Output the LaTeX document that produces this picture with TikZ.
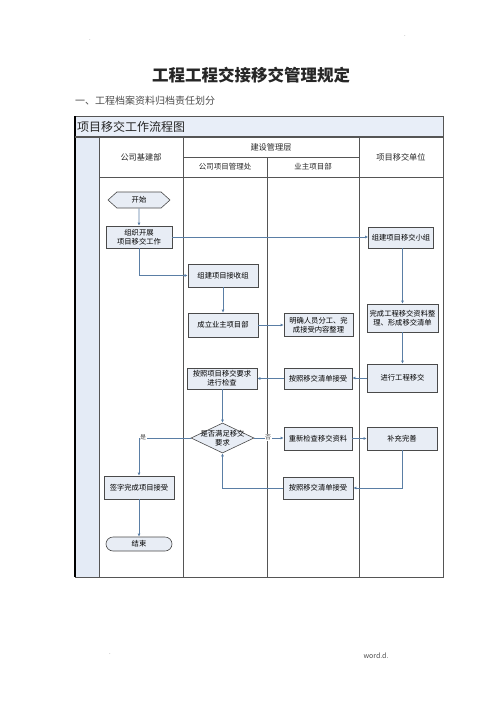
\documentclass[tikz,border=0pt]{standalone}
\usepackage{fontspec}
\setmainfont{Noto Sans CJK SC}
\usetikzlibrary{shapes.geometric,shapes.symbols,arrows.meta}
\definecolor{boxfill}{HTML}{E8EDF5}
\definecolor{boxline}{HTML}{4A4A4A}
\definecolor{arrowc}{HTML}{5A7EA5}
\definecolor{laneline}{HTML}{555555}
\definecolor{stripfill}{HTML}{E4EBF6}
\definecolor{titlefill}{HTML}{E8EEF8}
\begin{document}
\begin{tikzpicture}[x=1pt,y=-1pt,
  box/.style={draw=boxline, fill=boxfill, line width=0.6pt, minimum width=70pt, minimum height=23pt, inner sep=1pt, font=\fontsize{7.3}{9}\selectfont, align=center},
  arr/.style={draw=arrowc, line width=0.6pt, -{Latex[length=3pt,width=2.8pt]}},
  lane/.style={draw=laneline, line width=0.7pt},
  hdr/.style={font=\fontsize{8.2}{10}\selectfont, text=black!85},
  lbl/.style={font=\fontsize{6}{7}\selectfont, fill=white, inner sep=0.5pt, text=black!70},
  dot/.style={font=\fontsize{6}{7}\selectfont, text=black!50}]
\useasboundingbox (0,0) rectangle (496,702);
% page texts
\node[font=\fontsize{16.5}{18}\bfseries, text=black!85] (title) at (251,75) {工程工程交接移交管理规定};
\node[font=\fontsize{10}{12}\selectfont, text=black!70, anchor=west, inner sep=0pt] (sub) at (75,101) {一、工程档案资料归档责任划分};
\node[dot] (d1) at (90,40) {.};
\node[dot] (d2) at (405,36) {.};
\node[dot] (d3) at (110,654) {.};
\node[font=\fontsize{7}{8}\selectfont, text=black!70] (d4) at (376,656) {word.d.};
% table backgrounds
\fill[titlefill] (75,116) rectangle (443,137);
\fill[stripfill] (75,137) rectangle (99,577);
% table lines
\draw[lane, line width=0.8pt] (75,116) rectangle (443,577);
\draw[black, line width=1.3pt] (75,116) -- (75,577);
\draw[laneline, line width=1.1pt] (75,137) -- (443,137);
\draw[lane] (99,137) -- (99,577);
\draw[lane] (183,137) -- (183,577);
\draw[lane] (267,157) -- (267,577);
\draw[lane] (359,137) -- (359,577);
\draw[lane] (183,157) -- (359,157);
\draw[lane] (99,177) -- (443,177);
% header texts
\node[font=\fontsize{12}{14}\selectfont, anchor=west, inner sep=0pt, text=black!85] (tt) at (77,126.5) {项目移交工作流程图};
\node[hdr] (h1) at (141,157) {公司基建部};
\node[hdr] (h2) at (271,147) {建设管理层};
\node[hdr, font=\fontsize{7.5}{9}\selectfont] (h3) at (225,167) {公司项目管理处};
\node[hdr, font=\fontsize{7.5}{9}\selectfont] (h4) at (313,167) {业主项目部};
\node[hdr] (h5) at (401,157) {项目移交单位};
% flow nodes
\node[draw=boxline, fill=boxfill, line width=0.6pt, signal, signal to=west and east, signal pointer angle=84, minimum width=62pt, minimum height=16pt, inner sep=1pt, font=\fontsize{7.3}{9}\selectfont] (start) at (139,200) {开始};
\node[box, minimum width=66pt, minimum height=22pt] (org) at (139,237) {组织开展\\项目移交工作};
\node[box, minimum width=65pt, minimum height=21pt] (xz) at (401,237.5) {组建项目移交小组};
\node[box] (jsz) at (223,275.5) {组建项目接收组};
\node[box, minimum height=24pt] (cl) at (223,325) {成立业主项目部};
\node[box, minimum width=69pt] (mq) at (318.5,325) {明确人员分工、完\\成接受内容整理};
\node[box, minimum width=71pt, minimum height=28pt] (wc) at (402.5,318) {完成工程移交资料整\\理、形成移交清单};
\node[box, minimum height=28pt] (jx) at (402.5,378) {进行工程移交};
\node[box, minimum width=68pt, minimum height=21pt] (qd1) at (318,378.5) {按照移交清单接受};
\node[box, minimum height=21pt] (jc) at (222,378.5) {按照项目移交要求\\进行检查};
\node[diamond, draw=boxline, fill=boxfill, line width=0.6pt, minimum width=63pt, minimum height=30pt, inner sep=0pt, aspect=2.1] (dm) at (222.5,438) {};
\node[font=\fontsize{7.3}{9}\selectfont, align=center, inner sep=0pt] (dmt) at (222.5,438) {是否满足移交\\要求};
\node[box, minimum width=68pt] (cx) at (318,438.5) {重新检查移交资料};
\node[box] (bc) at (402,438.5) {补充完善};
\node[box, minimum height=22pt] (qd2) at (318,488) {按照移交清单接受};
\node[box] (qz) at (139,487.5) {签字完成项目接受};
\node[draw=boxline, fill=boxfill, line width=0.6pt, rounded corners=7pt, minimum width=66pt, minimum height=14pt, inner sep=1pt, font=\fontsize{7.3}{9}\selectfont] (end) at (139,544) {结束};
% connectors
\draw[arr] (start) -- (org);
\draw[arr] (org.south) |- (jsz.west);
\draw[arr] (org.east) -- (org.east -| xz.west);
\draw[arr] (jsz) -- (cl);
\draw[arr] (cl.east) -- (cl.east -| mq.west);
\draw[arr] (xz.south -| wc.north) -- (wc.north);
\draw[arr] (wc) -- (jx);
\draw[arr] (jx.west) -- (jx.west -| qd1.east);
\draw[arr] (qd1.west) -- (qd1.west -| jc.east);
\draw[arr] (jc.south -| dm.north) -- (dm.north);
\draw[arr] (dm.west) -| (qz.north);
\draw[arr] (dm.east) -- (dm.east -| cx.west);
\draw[arr] (cx.east) -- (bc.west);
\draw[arr] (bc.south) |- (qd2.east);
\draw[arr] (qd2.west) -| (dm.south);
\draw[arr] (qz) -- (end);
% labels
\node[lbl] (yes) at (143,437.5) {是};
\node[lbl] (no) at (268,437.5) {否};
\end{tikzpicture}
\end{document}
